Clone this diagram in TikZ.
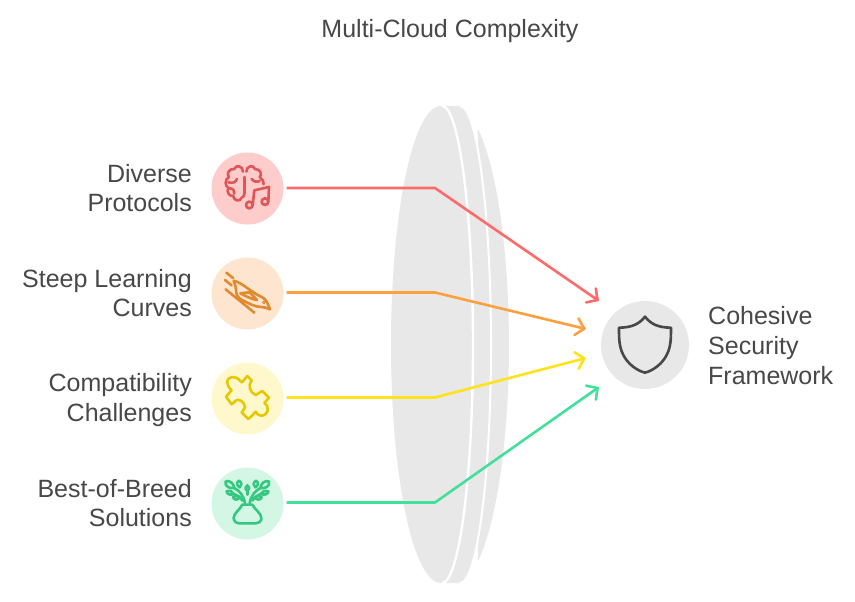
\documentclass[tikz,border=0pt]{standalone}
\usepackage{fontspec}
\setmainfont{Liberation Sans}
\usetikzlibrary{arrows.meta}
\definecolor{lensgray}{HTML}{E8E8E8}
\definecolor{txt}{HTML}{484848}
\definecolor{redbg}{HTML}{FFCCCC}\definecolor{redic}{HTML}{E05656}\definecolor{redln}{HTML}{FF6B6B}
\definecolor{orbg}{HTML}{FDE5CF}\definecolor{oric}{HTML}{E28A2E}\definecolor{orln}{HTML}{FF9F40}
\definecolor{yebg}{HTML}{FFF8CC}\definecolor{yeic}{HTML}{E6C800}\definecolor{yeln}{HTML}{FFE31A}
\definecolor{grbg}{HTML}{D3F6E5}\definecolor{gric}{HTML}{35C880}\definecolor{grln}{HTML}{42E09A}
\tikzset{
  disc/.style={circle,minimum size=72pt,inner sep=0pt,outer sep=3pt,fill=#1},
  lab/.style={anchor=east,align=right,text=txt,inner sep=0pt,font=\fontsize{25}{29.5}\selectfont},
  conn/.style={draw=#1,line width=2.6pt,line join=round,-{Straight Barb[length=8pt,width=17pt,line cap=round]}},
  icon/.style={line width=2.6pt,line cap=round,line join=round,draw=#1},
  zoomed/.style 2 args={shift={(#1,#2)},x=0.3333pt,y=-0.3333pt}
}
\begin{document}
\begin{tikzpicture}[x=1pt,y=-1pt]
\useasboundingbox (0,0) rectangle (855,602);
\fill[white] (0,0) rectangle (855,602);
% lens
\fill[lensgray] plot[domain=-65:65,samples=50,smooth] ({455+54*cos(\x)},{345+239*sin(\x)}) -- cycle;
\fill[lensgray] (446,106) -- (460,106) .. controls (477,106) and (491,213) .. (491,345) .. controls (491,477) and (477,583) .. (460,583) -- (446,583) -- cycle;
\draw[white,line width=2pt] (460,106) .. controls (477,106) and (491,213) .. (491,345) .. controls (491,477) and (477,583) .. (460,583);
\fill[lensgray] (391,345) .. controls (391,213) and (413,106) .. (441,106) .. controls (459,106) and (474,213) .. (474,345) .. controls (474,477) and (459,583) .. (441,583) .. controls (413,583) and (391,477) .. (391,345) -- cycle;
\draw[white,line width=2.4pt] (442,106) .. controls (459,106) and (473,213) .. (473,345) .. controls (473,477) and (459,583) .. (442,583);
% title
\node[inner sep=0pt,text=txt,font=\fontsize{25}{28}\selectfont] (title) at (450,31) {Multi-Cloud Complexity};
% discs
\node[disc=redbg] (d1) at (247.5,188.5) {};
\node[disc=orbg] (d2) at (247.5,293.5) {};
\node[disc=yebg] (d3) at (247.5,398.5) {};
\node[disc=grbg] (d4) at (247.5,503.5) {};
\node[circle,minimum size=88pt,inner sep=0pt,fill=lensgray] (hub) at (645,345) {};
% labels
\node[lab] (l1) at (192,188) {Diverse\\Protocols};
\node[lab] (l2) at (192,293) {Steep Learning\\Curves};
\node[lab] (l3) at (192,400) {Compatibility\\Challenges};
\node[lab] (l4) at (192,503) {Best-of-Breed\\Solutions};
\node[lab,anchor=west,align=left,font=\fontsize{25}{30}\selectfont] (l5) at (708,346) {Cohesive\\Security\\Framework};
% connector waypoints
\coordinate (b1) at (435,188);
\coordinate (b2) at (435,292.5);
\coordinate (b3) at (435,397.5);
\coordinate (b4) at (435,502.5);
\coordinate (e1) at (599,301);
\coordinate (e2) at (586,329);
\coordinate (e3) at (586,358);
\coordinate (e4) at (599,387);
\draw[conn=redln] (d1.east |- b1) -- (b1) -- (e1);
\draw[conn=orln] (d2.east |- b2) -- (b2) -- (e2);
\draw[conn=yeln] (d3.east |- b3) -- (b3) -- (e3);
\draw[conn=grln] (d4.east |- b4) -- (b4) -- (e4);
% brain and music icon
\begin{scope}[zoomed={205}{145}]
\draw[icon=redic] (114,80) .. controls (114,62) and (92,58) .. (88,72) .. controls (70,70) and (64,88) .. (72,96) .. controls (58,104) and (60,124) .. (70,128) .. controls (62,142) and (76,156) .. (84,152) .. controls (86,168) and (106,172) .. (110,158) .. controls (116,156) and (118,152) .. (118,146);
\draw[icon=redic] (124,80) .. controls (124,62) and (146,58) .. (150,72) .. controls (168,72) and (172,90) .. (164,96) .. controls (172,102) and (178,110) .. (176,118);
\draw[icon=redic] (118,96) -- (118,146);
\draw[icon=redic] (70,112) .. controls (82,116) and (92,112) .. (96,102);
\draw[icon=redic] (140,102) .. controls (146,110) and (154,112) .. (164,108);
\draw[icon=redic] (74,130) .. controls (84,130) and (90,138) .. (88,146);
\draw[icon=redic] (133,180) circle[radius=10] (180,170) circle[radius=10];
\draw[icon=redic] (143,180) -- (148,136) -- (192,126) -- (190,170);
\end{scope}
% bird icon
\begin{scope}[zoomed={205}{250}]
\draw[icon=oric] (64,68) -- (84,84) (60,90) -- (80,106) (62,118) -- (148,188);
\draw[icon=oric] (86,92) .. controls (112,98) and (140,128) .. (172,142) .. controls (184,148) and (188,160) .. (195,178) .. controls (178,168) and (160,174) .. (140,164) .. controls (120,154) and (104,150) .. (96,136) .. controls (92,125) and (94,108) .. (86,92) -- cycle;
\draw[icon=oric] (106,130) .. controls (116,130) and (126,126) .. (134,127) .. controls (142,134) and (148,142) .. (156,150) .. controls (140,148) and (122,138) .. (106,130) -- cycle;
\draw[oric,line width=1pt] (177,157) circle[radius=4];
\end{scope}
% puzzle icon
\begin{scope}[zoomed={205}{355}]
\draw[icon=yeic] (66,80) .. controls (68,64) and (92,60) .. (106,78) -- (111,82) -- (127,63) -- (140,76) .. controls (128,90) and (134,112) .. (152,120) -- (172,108) -- (192,128) -- (178,144) .. controls (196,156) and (190,182) .. (168,182) .. controls (160,182) and (156,176) .. (152,170) .. controls (146,178) and (138,186) .. (130,192) -- (110,172) -- (120,158) .. controls (120,140) and (100,130) .. (94,136) -- (80,148) -- (63,125) -- (80,106) .. controls (72,98) and (66,90) .. (66,80) -- cycle;
\end{scope}
% plant icon
\begin{scope}[zoomed={205}{460}]
\draw[icon=gric] (112,134) -- (142,134) .. controls (150,150) and (170,160) .. (169,176) .. controls (168,186) and (160,190) .. (152,190) -- (104,190) .. controls (94,190) and (86,184) .. (86,174) .. controls (86,160) and (104,150) .. (112,134) -- cycle;
\draw[icon=gric] (120,130) .. controls (116,105) and (102,92) .. (88,84);
\draw[icon=gric] (112,122) .. controls (106,112) and (98,106) .. (86,102);
\draw[icon=gric] (134,130) .. controls (138,105) and (152,92) .. (166,84);
\draw[icon=gric] (142,122) .. controls (148,112) and (156,106) .. (168,102);
\draw[icon=gric] (127,94) -- (127,104);
% leaves
\draw[icon=gric] (62,64) .. controls (74,60) and (86,70) .. (88,84) .. controls (74,86) and (58,80) .. (62,64) -- cycle;
\draw[icon=gric] (192,64) .. controls (180,60) and (168,70) .. (166,84) .. controls (180,86) and (196,80) .. (192,64) -- cycle;
\draw[icon=gric] (102,62) .. controls (112,68) and (110,76) .. (104,82) .. controls (96,78) and (92,68) .. (102,62) -- cycle;
\draw[icon=gric] (153,62) .. controls (143,68) and (145,76) .. (151,82) .. controls (159,78) and (163,68) .. (153,62) -- cycle;
\draw[icon=gric] (127,76) .. controls (134,82) and (134,90) .. (127,94) .. controls (120,90) and (120,82) .. (127,76) -- cycle;
\draw[icon=gric] (65,94) .. controls (74,90) and (84,94) .. (86,102) .. controls (78,106) and (66,104) .. (65,94) -- cycle;
\draw[icon=gric] (190,94) .. controls (181,90) and (171,94) .. (168,102) .. controls (176,106) and (189,104) .. (190,94) -- cycle;
\draw[icon=gric] (84,112) .. controls (92,106) and (102,108) .. (104,112) .. controls (100,120) and (88,122) .. (84,112) -- cycle;
\draw[icon=gric] (170,112) .. controls (162,106) and (152,108) .. (150,112) .. controls (154,120) and (166,122) .. (170,112) -- cycle;
\end{scope}
% shield icon
\begin{scope}[zoomed={570}{280}]
\draw[line width=2.6pt,draw=txt,line join=round] (225,110) .. controls (208,132) and (185,143) .. (147,143) .. controls (147,175) and (147,200) .. (160,225) .. controls (172,250) and (200,272) .. (225,278) .. controls (250,272) and (278,250) .. (290,225) .. controls (303,200) and (303,175) .. (303,143) .. controls (265,143) and (242,132) .. (225,110) -- cycle;
\end{scope}
\end{tikzpicture}
\end{document}
